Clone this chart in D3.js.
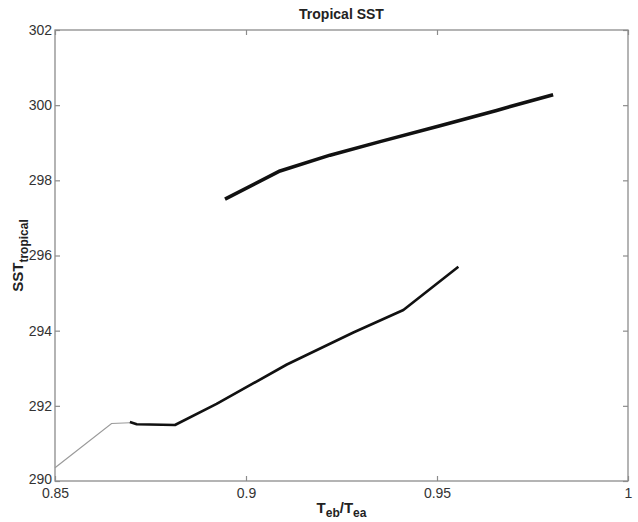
<!DOCTYPE html>
<html><head><meta charset="utf-8">
<script src="https://cdn.jsdelivr.net/npm/d3@7"></script>
<style>body{margin:0;background:#fff}svg{display:block}text{font-family:"Liberation Sans",Arial,sans-serif}</style>
</head><body><svg id="c" width="638" height="522"></svg>
<script>
// thin gray branch
const thinX = [0.85, 0.8648, 0.8696];
const thinY = [290.35, 291.53, 291.55];
// lower thick branch
const lowX = [0.8696, 0.8714, 0.8814, 0.8923, 0.9107, 0.9281, 0.9412, 0.9556];
const lowY = [291.57, 291.51, 291.49, 292.05, 293.10, 293.95, 294.55, 295.70];
// upper thick branch
const upX = [0.8945, 0.9089, 0.922, 0.9351, 0.9508, 0.9656, 0.9804];
const upY = [297.50, 298.25, 298.67, 299.03, 299.45, 299.86, 300.28];
const xTicks = [0.85, 0.9, 0.95, 1];
const xTickLabels = ["0.85", "0.9", "0.95", "1"];
const yTicks = [290, 292, 294, 296, 298, 300, 302];

const svg = d3.select("#c");
const L = 55, R = 628, T = 30, B = 481;
const x = d3.scaleLinear().domain([0.85, 1]).range([L, R]);
const y = d3.scaleLinear().domain([290, 302]).range([B, T]);
const axisCol = "#8c8c8c";

// frame
svg.append("rect").attr("x", L).attr("y", T).attr("width", R - L).attr("height", B - T)
  .attr("fill", "none").attr("stroke", axisCol).attr("stroke-width", 1.3);

// axes with inward ticks
const fmtX = (d, i) => xTickLabels[i];
const gB = svg.append("g").attr("transform", `translate(0,${B})`)
  .call(d3.axisBottom(x).tickValues(xTicks).tickFormat(fmtX).tickSizeInner(-5).tickSizeOuter(0).tickPadding(6));
const gT = svg.append("g").attr("transform", `translate(0,${T})`)
  .call(d3.axisTop(x).tickValues(xTicks).tickFormat("").tickSizeInner(-5).tickSizeOuter(0));
const gL = svg.append("g").attr("transform", `translate(${L},0)`)
  .call(d3.axisLeft(y).tickValues(yTicks).tickFormat(d3.format("d")).tickSizeInner(-5).tickSizeOuter(0).tickPadding(3));
const gR = svg.append("g").attr("transform", `translate(${R},0)`)
  .call(d3.axisRight(y).tickValues(yTicks).tickFormat("").tickSizeInner(-5).tickSizeOuter(0));
[gB, gT, gL, gR].forEach(g => {
  g.select(".domain").remove();
  g.selectAll(".tick line").attr("stroke", axisCol).attr("stroke-width", 1.2);
  g.selectAll(".tick text").attr("fill", "#333").attr("font-size", 14);
});
gB.selectAll(".tick text").attr("dy", "0.75em");
gL.selectAll(".tick text").filter(d => d === 290).attr("dy", "0.2em");

const line = d3.line().x(d => x(d[0])).y(d => y(d[1]));
const zip = (a, b) => a.map((v, i) => [v, b[i]]);

svg.append("path").datum(zip(thinX, thinY)).attr("d", line)
  .attr("fill", "none").attr("stroke", "#9a9a9a").attr("stroke-width", 1.2);
svg.append("path").datum(zip(lowX, lowY)).attr("d", line)
  .attr("fill", "none").attr("stroke", "#111").attr("stroke-width", 2.6).attr("stroke-linejoin", "round");
svg.append("path").datum(zip(upX, upY)).attr("d", line)
  .attr("fill", "none").attr("stroke", "#111").attr("stroke-width", 3.6).attr("stroke-linejoin", "round");

// title
svg.append("text").attr("x", (L + R) / 2).attr("y", 19).attr("text-anchor", "middle")
  .attr("font-size", 14).attr("font-weight", "bold").attr("fill", "#222").text("Tropical SST");

// x label
const xl = svg.append("text").attr("x", (L + R) / 2).attr("y", 513).attr("text-anchor", "middle")
  .attr("font-size", 15).attr("font-weight", "bold").attr("fill", "#222");
xl.append("tspan").text("T");
xl.append("tspan").attr("font-size", 12).attr("dy", 4).text("eb");
xl.append("tspan").attr("dy", -4).text("/T");
xl.append("tspan").attr("font-size", 12).attr("dy", 4).text("ea");

// y label
const yl = svg.append("text").attr("transform", `translate(23,${(T + B) / 2}) rotate(-90)`)
  .attr("text-anchor", "middle").attr("font-size", 15).attr("font-weight", "bold").attr("fill", "#222");
yl.append("tspan").text("SST");
yl.append("tspan").attr("font-size", 12).attr("dy", 5).text("tropical");
</script></body></html>
